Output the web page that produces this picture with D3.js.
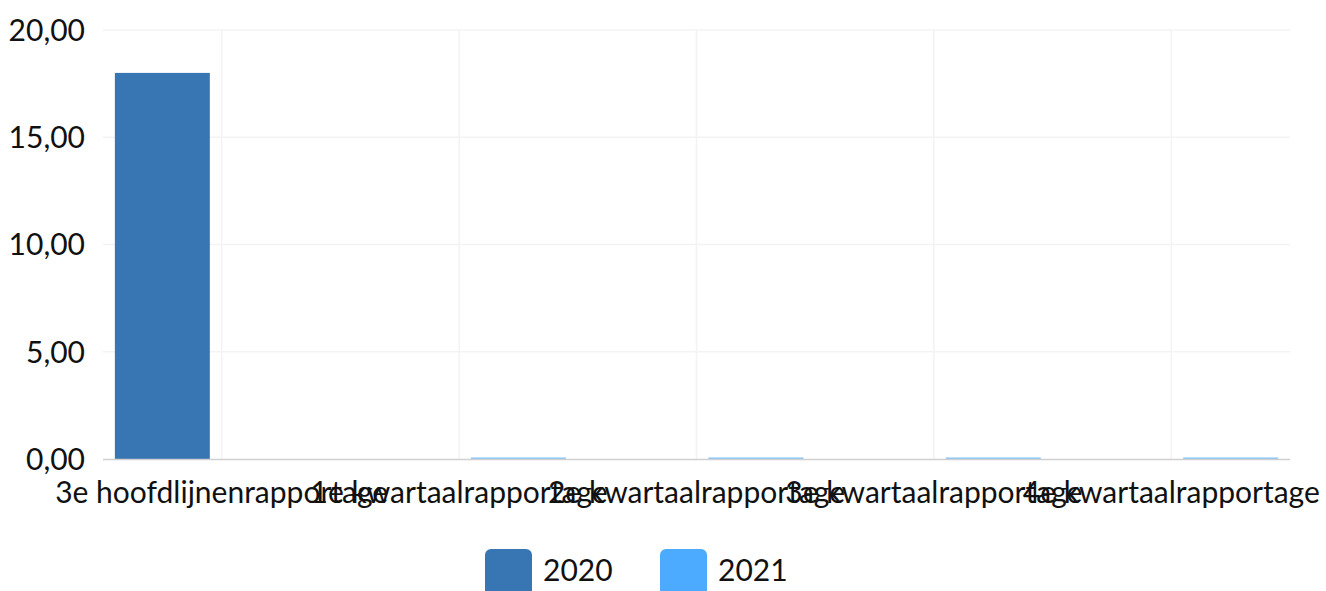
<!DOCTYPE html>
<html><head><meta charset="utf-8">
<script src="https://cdn.jsdelivr.net/npm/d3@7"></script>
<style>html,body{margin:0;padding:0;background:#fff;overflow:hidden}</style>
</head><body>
<svg id="chart" width="1326" height="591"></svg>
<script>
const categories = ["3e hoofdlijnenrapportage","1e kwartaalrapportage","2e kwartaalrapportage","3e kwartaalrapportage","4e kwartaalrapportage"];
const seriesNames = ["2020","2021"];
const values2020 = [18, null, null, null, null];
const values2021 = [null, 0, 0, 0, 0];
const yTicks = [0, 5, 10, 15, 20];
const colors = ["#3776b3", "#4dabff"];

const svg = d3.select("#chart");
const m = {left:103, right:1290, top:30, bottom:459};
const x = d3.scaleBand().domain(categories).range([m.left, m.right]);
const y = d3.scaleLinear().domain([0,20]).range([m.bottom, m.top]);
const fmt = v => d3.format(".2f")(v).replace(".", ",");

// horizontal grid
svg.append("g").selectAll("line").data(yTicks.filter(t=>t>0)).join("line")
  .attr("x1", m.left).attr("x2", m.right)
  .attr("y1", d=>y(d)).attr("y2", d=>y(d))
  .attr("stroke", "#f3f3f3").attr("stroke-width", 1.5);
// vertical grid at category centers
svg.append("g").selectAll("line").data(categories).join("line")
  .attr("x1", d=>x(d)+x.bandwidth()/2).attr("x2", d=>x(d)+x.bandwidth()/2)
  .attr("y1", m.top).attr("y2", m.bottom)
  .attr("stroke", "#f3f3f3").attr("stroke-width", 1.5);

// y labels
svg.append("g").selectAll("text").data(yTicks).join("text")
  .attr("x", 85).attr("y", d=>y(d)).attr("dy", "0.36em")
  .attr("text-anchor", "end")
  .attr("font-family", "Lato").attr("font-size", 30).attr("fill", "#111")
  .text(fmt);

// bars
const xs = d3.scaleBand().domain(seriesNames).range([0, x.bandwidth()]);
const barW = xs.bandwidth()*0.8;
[values2020, values2021].forEach((vals, si) => {
  const g = svg.append("g");
  categories.forEach((c, i) => {
    const v = vals[i];
    if (v === null) return;
    const bx = x(c) + xs(seriesNames[si]) + (xs.bandwidth()-barW)/2;
    const top = y(v);
    const h = Math.max(y(0)-top, 1.5);
    g.append("rect").attr("x", bx).attr("y", y(0)-h).attr("width", barW).attr("height", h)
      .attr("fill", colors[si]).attr("opacity", v===0 ? 0.7 : 1);
  });
});

// x axis line
svg.append("line").attr("x1", m.left).attr("x2", m.right)
  .attr("y1", m.bottom+0.5).attr("y2", m.bottom+0.5)
  .attr("stroke", "#d0d0d0").attr("stroke-width", 1.5);

// x labels
svg.append("g").selectAll("text").data(categories).join("text")
  .attr("x", d=>x(d)+x.bandwidth()/2).attr("y", 503)
  .attr("text-anchor", "middle")
  .attr("font-family", "Lato").attr("font-size", 30).attr("fill", "#111")
  .text(d=>d);

// legend
const legend = svg.append("g");
const lx = [485, 660];
seriesNames.forEach((s, i) => {
  legend.append("rect").attr("x", lx[i]).attr("y", 549).attr("width", 47).attr("height", 60)
    .attr("rx", 6).attr("fill", colors[i]);
  legend.append("text").attr("x", lx[i]+58).attr("y", 581)
    .attr("font-family", "Lato").attr("font-size", 30).attr("fill", "#111").text(s);
});
</script>
</body></html>
